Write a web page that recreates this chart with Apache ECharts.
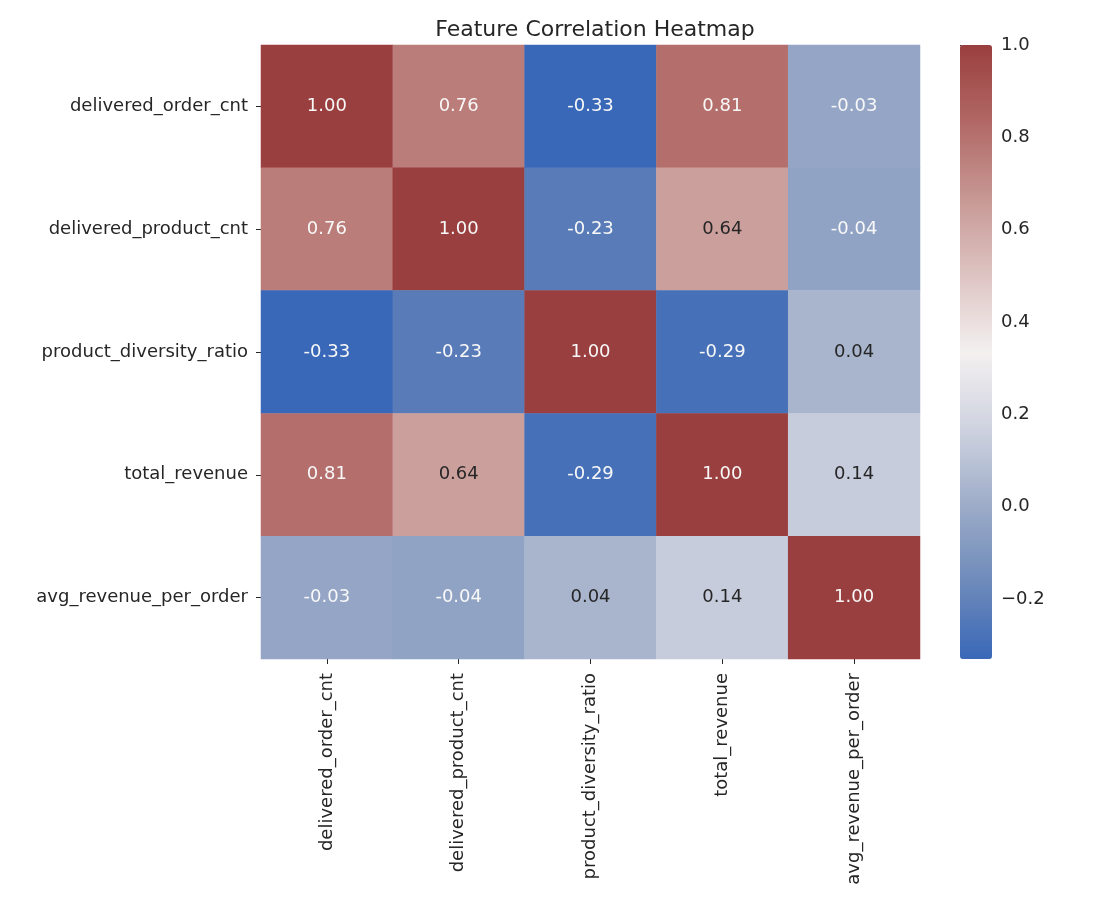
<!DOCTYPE html>
<html>
<head>
<meta charset="utf-8">
<script src="https://cdn.jsdelivr.net/npm/echarts@6/dist/echarts.min.js"></script>
<style>
  html, body { margin: 0; padding: 0; background: #fff; }
  #main { width: 1120px; height: 906px; }
</style>
</head>
<body>
<div id="main"></div>
<script>
var features = ['delivered_order_cnt', 'delivered_product_cnt', 'product_diversity_ratio', 'total_revenue', 'avg_revenue_per_order'];

// correlation matrix, row by row (rows top to bottom)
var corr = [
    [1.00, 0.76, -0.33, 0.81, -0.03],
    [0.76, 1.00, -0.23, 0.64, -0.04],
    [-0.33, -0.23, 1.00, -0.29, 0.04],
    [0.81, 0.64, -0.29, 1.00, 0.14],
    [-0.03, -0.04, 0.04, 0.14, 1.00]
];

var cbarTicks = [-0.2, 0.0, 0.2, 0.4, 0.6, 0.8, 1.0];
var vmin = -0.33, vmax = 1.0;

// vlag-like palette, evenly spaced from vmin to vmax
var palette = ['#3a68b8', '#6d8aba', '#9dacc8', '#cfd3e0', '#f4f0f0', '#ddc4c2', '#c79894', '#b16865', '#9a3f3f'];

var font = 'DejaVu Sans';
var cells = [];
corr.forEach(function (row, r) {
    row.forEach(function (v, c) {
        var dark = v > 0 && v < 0.7;
        cells.push({
            value: [c, r, v],
            label: { color: dark ? '#262626' : '#f8f8f8' }
        });
    });
});

var myChart = echarts.init(document.getElementById('main'));
var option = {
    backgroundColor: '#fff',
    animation: false,
    title: {
        text: 'Feature Correlation Heatmap',
        left: 590,
        top: 14,
        textAlign: 'center',
        textStyle: { fontFamily: font, fontSize: 22, fontWeight: 'normal', color: '#262626' }
    },
    grid: [
        { left: 261, top: 45, width: 659, height: 614 },
        { left: 960, top: 45, width: 32, height: 614 }
    ],
    xAxis: [
        {
            type: 'category',
            gridIndex: 0,
            data: features,
            axisLine: { show: false },
            axisTick: { show: true, alignWithLabel: true, length: 5, lineStyle: { color: '#262626' } },
            axisLabel: { rotate: 90, margin: 14, fontFamily: font, fontSize: 18, color: '#262626' },
            splitLine: { show: false }
        },
        { type: 'value', gridIndex: 1, show: false, min: 0, max: 1 }
    ],
    yAxis: [
        {
            type: 'category',
            gridIndex: 0,
            data: features,
            inverse: true,
            axisLine: { show: false },
            axisTick: { show: true, alignWithLabel: true, length: 5, lineStyle: { color: '#262626' } },
            axisLabel: { margin: 13, fontFamily: font, fontSize: 18, color: '#262626' },
            splitLine: { show: false }
        },
        {
            type: 'value',
            gridIndex: 1,
            position: 'right',
            min: vmin,
            max: vmax,
            axisLine: { show: false },
            splitLine: { show: false },
            axisTick: { show: true, length: 5, customValues: cbarTicks, lineStyle: { color: '#262626' } },
            axisLabel: {
                customValues: cbarTicks,
                margin: 9,
                fontFamily: font,
                fontSize: 18,
                color: '#262626',
                formatter: function (v) {
                    var s = Math.abs(v).toFixed(1);
                    return v < -1e-9 ? '\u2212' + s : s;
                }
            }
        }
    ],
    visualMap: {
        type: 'continuous',
        min: vmin,
        max: vmax,
        seriesIndex: 0,
        calculable: false,
        hoverLink: false,
        orient: 'vertical',
        left: 960,
        top: 45,
        padding: 0,
        itemWidth: 32,
        itemHeight: 614,
        text: null,
        showLabel: false,
        inRange: { color: palette }
    },
    series: [
        {
            type: 'heatmap',
            xAxisIndex: 0,
            yAxisIndex: 0,
            data: cells,
            label: {
                show: true,
                fontFamily: font,
                fontSize: 18,
                formatter: function (p) { return p.value[2].toFixed(2); }
            },
            itemStyle: { borderWidth: 0 }
        }
    ]
};

myChart.setOption(option);
</script>
</body>
</html>
